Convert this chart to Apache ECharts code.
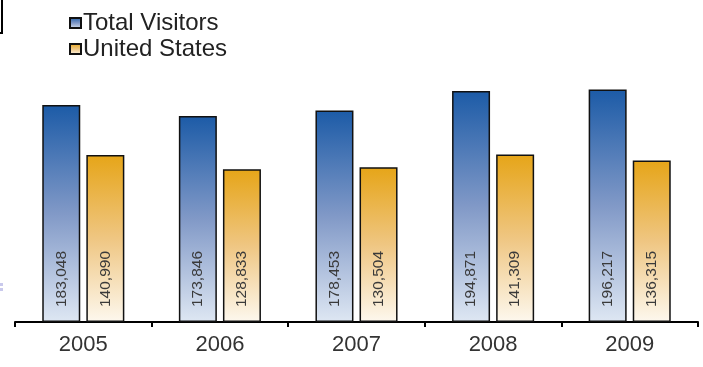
<!DOCTYPE html>
<html>
<head>
<meta charset="utf-8">
<style>
  html, body { margin: 0; padding: 0; background: #fff; }
  #chart { width: 703px; height: 367px; }
</style>
<script src="https://cdn.jsdelivr.net/npm/echarts@6/dist/echarts.min.js"></script>
</head>
<body>
<div id="chart"></div>
<script>
// Visitor counts per year
const years = ['2005', '2006', '2007', '2008', '2009'];
const totalVisitors = [183048, 173846, 178453, 194871, 196217];
const unitedStates = [140990, 128833, 130504, 141309, 136315];

const seriesNames = ['Total Visitors', 'United States'];

function vGradient(top, mid, bottom) {
  return new echarts.graphic.LinearGradient(0, 0, 0, 1, [
    { offset: 0, color: top },
    { offset: 0.5, color: mid },
    { offset: 1, color: bottom }
  ]);
}

const labelCfg = {
  show: true,
  position: 'insideBottom',
  rotate: 90,
  align: 'left',
  verticalAlign: 'middle',
  distance: 15,
  fontFamily: 'Liberation Sans, Arial, sans-serif',
  fontSize: 15.5,
  color: '#3a3a3a',
  formatter: p => p.value.toLocaleString('en-US')
};

const chart = echarts.init(document.getElementById('chart'), null, { renderer: 'canvas' });
chart.setOption({
  animation: false,
  backgroundColor: '#fff',
  textStyle: { fontFamily: 'Liberation Sans, Arial, sans-serif' },
  legend: {
    orient: 'vertical',
    left: 64,
    top: 6,
    itemWidth: 11,
    itemHeight: 10,
    itemGap: 2,
    icon: 'rect',
    textStyle: { fontSize: 24, color: '#222', padding: [0, 0, 0, -3] },
    data: seriesNames
  },
  grid: { left: 15, right: 5, top: 85, bottom: 45 },
  xAxis: {
    type: 'category',
    data: years,
    axisLine: { lineStyle: { color: '#000', width: 2 } },
    axisTick: { show: true, length: 5, lineStyle: { color: '#000', width: 2 } },
    axisLabel: { fontSize: 22, color: '#333', margin: 12 }
  },
  yAxis: {
    type: 'value',
    min: 0,
    max: 200000,
    show: false,
    splitLine: { show: false }
  },
  series: [
    {
      name: seriesNames[0],
      type: 'bar',
      data: totalVisitors,
      barWidth: 38,
      barGap: '16%',
      itemStyle: {
        color: vGradient('#1c5ba7', '#8199c7', '#dee7f3'),
        borderColor: '#111',
        borderWidth: 1.5
      },
      label: labelCfg
    },
    {
      name: seriesNames[1],
      type: 'bar',
      data: unitedStates,
      barWidth: 38,
      itemStyle: {
        color: vGradient('#e6a518', '#efc682', '#fdf8ee'),
        borderColor: '#111',
        borderWidth: 1.5
      },
      label: labelCfg
    }
  ],
  graphic: [
    {
      type: 'polyline',
      shape: { points: [[2, 0], [2, 33], [0, 33]] },
      style: { stroke: '#000', lineWidth: 2, fill: null }
    },
    { type: 'rect', shape: { x: 0, y: 283, width: 3, height: 3 }, style: { fill: '#c9c9ec' } },
    { type: 'rect', shape: { x: 0, y: 288, width: 3, height: 3 }, style: { fill: '#c9c9ec' } }
  ]
});
</script>
</body>
</html>
